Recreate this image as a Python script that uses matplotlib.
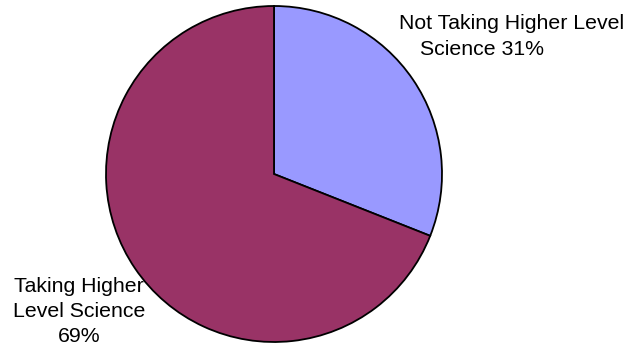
import matplotlib.pyplot as plt

# slice data (clockwise from the top)
labels = ['Not Taking Higher Level Science', 'Taking Higher Level Science']
values = [31, 69]
colors = ['#9999FF', '#993366']

W, H = 635, 347
fig = plt.figure(figsize=(W / 100, H / 100), dpi=100)
ax = fig.add_axes([0, 0, 1, 1])
plt.rcParams['font.family'] = ['Liberation Sans', 'DejaVu Sans']

# work in pixel coordinates (y measured from the bottom)
ax.pie(values, colors=colors, startangle=90, counterclock=False,
       center=(274, H - 174), radius=168, frame=True,
       wedgeprops=dict(edgecolor='black', linewidth=1.3))
ax.set_xlim(0, W)
ax.set_ylim(0, H)
ax.axis('off')

fs = 15.3
# label for the small slice
ax.text(512, H - 29, 'Not Taking Higher Level', ha='center', va='baseline', fontsize=fs)
ax.text(482, H - 55, 'Science %d%%' % values[0], ha='center', va='baseline', fontsize=fs)

# label for the large slice
left_lines = ['Taking Higher', 'Level Science', '%d%%' % values[1]]
for i, line in enumerate(left_lines):
    ax.text(79, H - 292 - 25 * i, line, ha='center', va='baseline', fontsize=fs)

fig.savefig('out.png', dpi=100)
